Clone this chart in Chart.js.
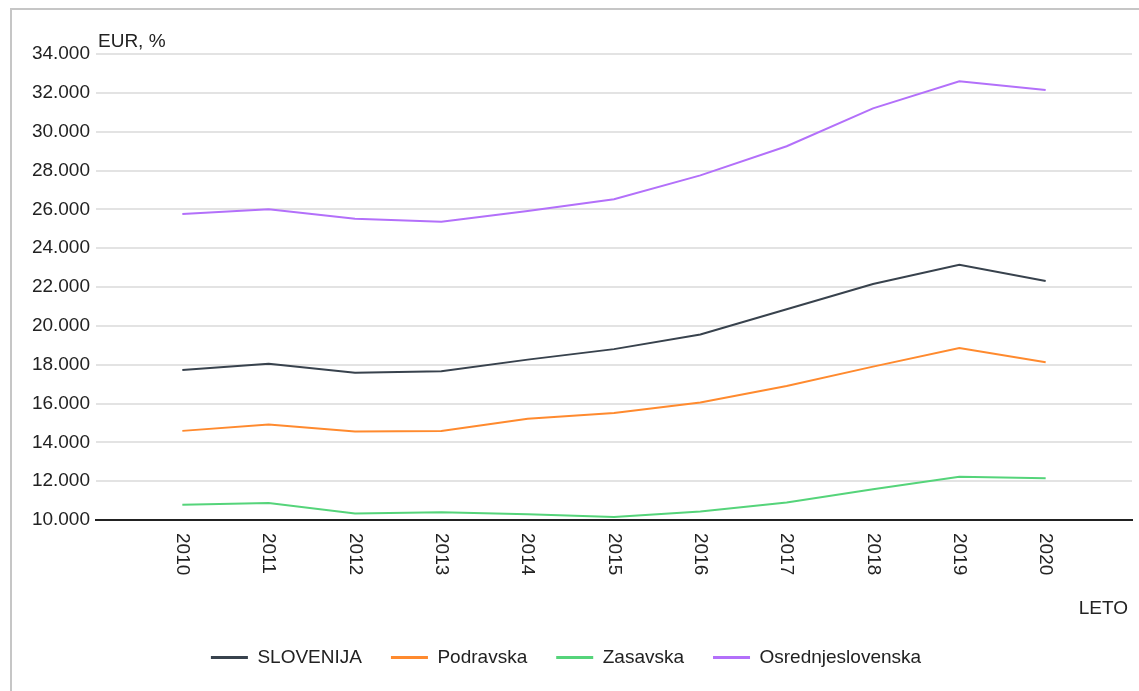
<!DOCTYPE html>
<html>
<head>
<meta charset="utf-8">
<script src="https://cdn.jsdelivr.net/npm/chart.js@4.4.1/dist/chart.umd.min.js"></script>
<style>
    html, body { margin: 0; padding: 0; background: #fff; }
    #frame {
        position: absolute; left: 10px; top: 8px; right: -10px; bottom: -10px;
        border-left: 2px solid #c6c6c6; border-top: 2px solid #c6c6c6;
    }
    #wrap { position: absolute; left: 0; top: 0; width: 1139px; height: 691px; }
</style>
</head>
<body>
<div id="frame"></div>
<div id="wrap"><canvas id="lineChart" width="1139" height="691"></canvas></div>
<script>
// podatki
const years = [2010, 2011, 2012, 2013, 2014, 2015, 2016, 2017, 2018, 2019, 2020];
const slovenija = [17730, 18050, 17590, 17660, 18260, 18800, 19550, 20850, 22150, 23150, 22310];
const podravska = [14590, 14920, 14560, 14590, 15210, 15510, 16050, 16900, 17900, 18860, 18120];
const zasavska = [10790, 10880, 10330, 10400, 10300, 10160, 10440, 10900, 11580, 12230, 12150];
const osrednjeslovenska = [25760, 26000, 25520, 25360, 25910, 26520, 27750, 29250, 31200, 32600, 32140];
const yTicks = [10000, 12000, 14000, 16000, 18000, 20000, 22000, 24000, 26000, 28000, 30000, 32000, 34000];

const FONT = 'Liberation Sans, Arial, sans-serif';
const TEXT = '#222';

function fmt(v) {
    return String(v).replace(/\B(?=(\d{3})+(?!\d))/g, '.');
}

function series(label, values, color) {
    return {
        label: label,
        data: years.map((y, i) => ({ x: y, y: values[i] })),
        borderColor: color,
        backgroundColor: color,
        borderWidth: 2,
        pointRadius: 0,
        tension: 0,
        fill: false
    };
}

// rotirane oznake, EUR, LETO
const labelsPlugin = {
    id: 'labelsPlugin',
    afterDraw(chart) {
        const ctx = chart.ctx;
        const area = chart.chartArea;
        const xs = chart.scales.x;
        ctx.save();
        ctx.fillStyle = TEXT;
        ctx.font = '19px ' + FONT;
        years.forEach(y => {
            const px = xs.getPixelForValue(y);
            ctx.save();
            ctx.translate(px, area.bottom + 13);
            ctx.rotate(Math.PI / 2);
            ctx.textAlign = 'left';
            ctx.textBaseline = 'middle';
            ctx.fillText(String(y), 0, 0);
            ctx.restore();
        });
        ctx.textBaseline = 'alphabetic';
        ctx.textAlign = 'left';
        ctx.fillText('EUR, %', area.left + 2, area.top - 7);
        ctx.textAlign = 'right';
        ctx.fillText('LETO', area.right - 4, 614);
        ctx.restore();
    }
};

const ctx = document.getElementById('lineChart');
new Chart(ctx, {
    type: 'line',
    data: {
        datasets: [
            series('SLOVENIJA', slovenija, '#38424d'),
            series('Podravska', podravska, '#ff8a2e'),
            series('Zasavska', zasavska, '#55d47a'),
            series('Osrednjeslovenska', osrednjeslovenska, '#b370fa')
        ]
    },
    options: {
        responsive: false,
        animation: false,
        devicePixelRatio: 1,
        layout: { padding: { left: 0, top: 54, right: 7, bottom: 14 } },
        plugins: {
            tooltip: { enabled: false },
            legend: {
                display: true,
                position: 'bottom',
                labels: {
                    boxWidth: 37,
                    boxHeight: 3,
                    padding: 29,
                    color: TEXT,
                    font: { family: FONT, size: 19 },
                    generateLabels: function(chart) {
                        return Chart.defaults.plugins.legend.labels.generateLabels(chart).map(item => {
                            item.lineWidth = 0;
                            item.fillStyle = chart.data.datasets[item.datasetIndex].borderColor;
                            return item;
                        });
                    }
                }
            }
        },
        scales: {
            x: {
                type: 'linear',
                min: 2009,
                max: 2021,
                ticks: { display: false, stepSize: 1 },
                grid: { display: false, drawTicks: false },
                border: { display: true, color: '#222', width: 2 },
                afterFit: function(scale) { scale.height = 99; }
            },
            y: {
                min: 10000,
                max: 34000,
                afterBuildTicks: function(scale) {
                    scale.ticks = yTicks.map(v => ({ value: v }));
                },
                ticks: {
                    padding: 6,
                    color: TEXT,
                    font: { family: FONT, size: 19 },
                    callback: v => fmt(v)
                },
                grid: { color: '#e3e3e3', lineWidth: 2, drawTicks: false },
                border: { display: false },
                afterFit: function(scale) { scale.width = 96; }
            }
        }
    },
    plugins: [labelsPlugin]
});
</script>
</body>
</html>
